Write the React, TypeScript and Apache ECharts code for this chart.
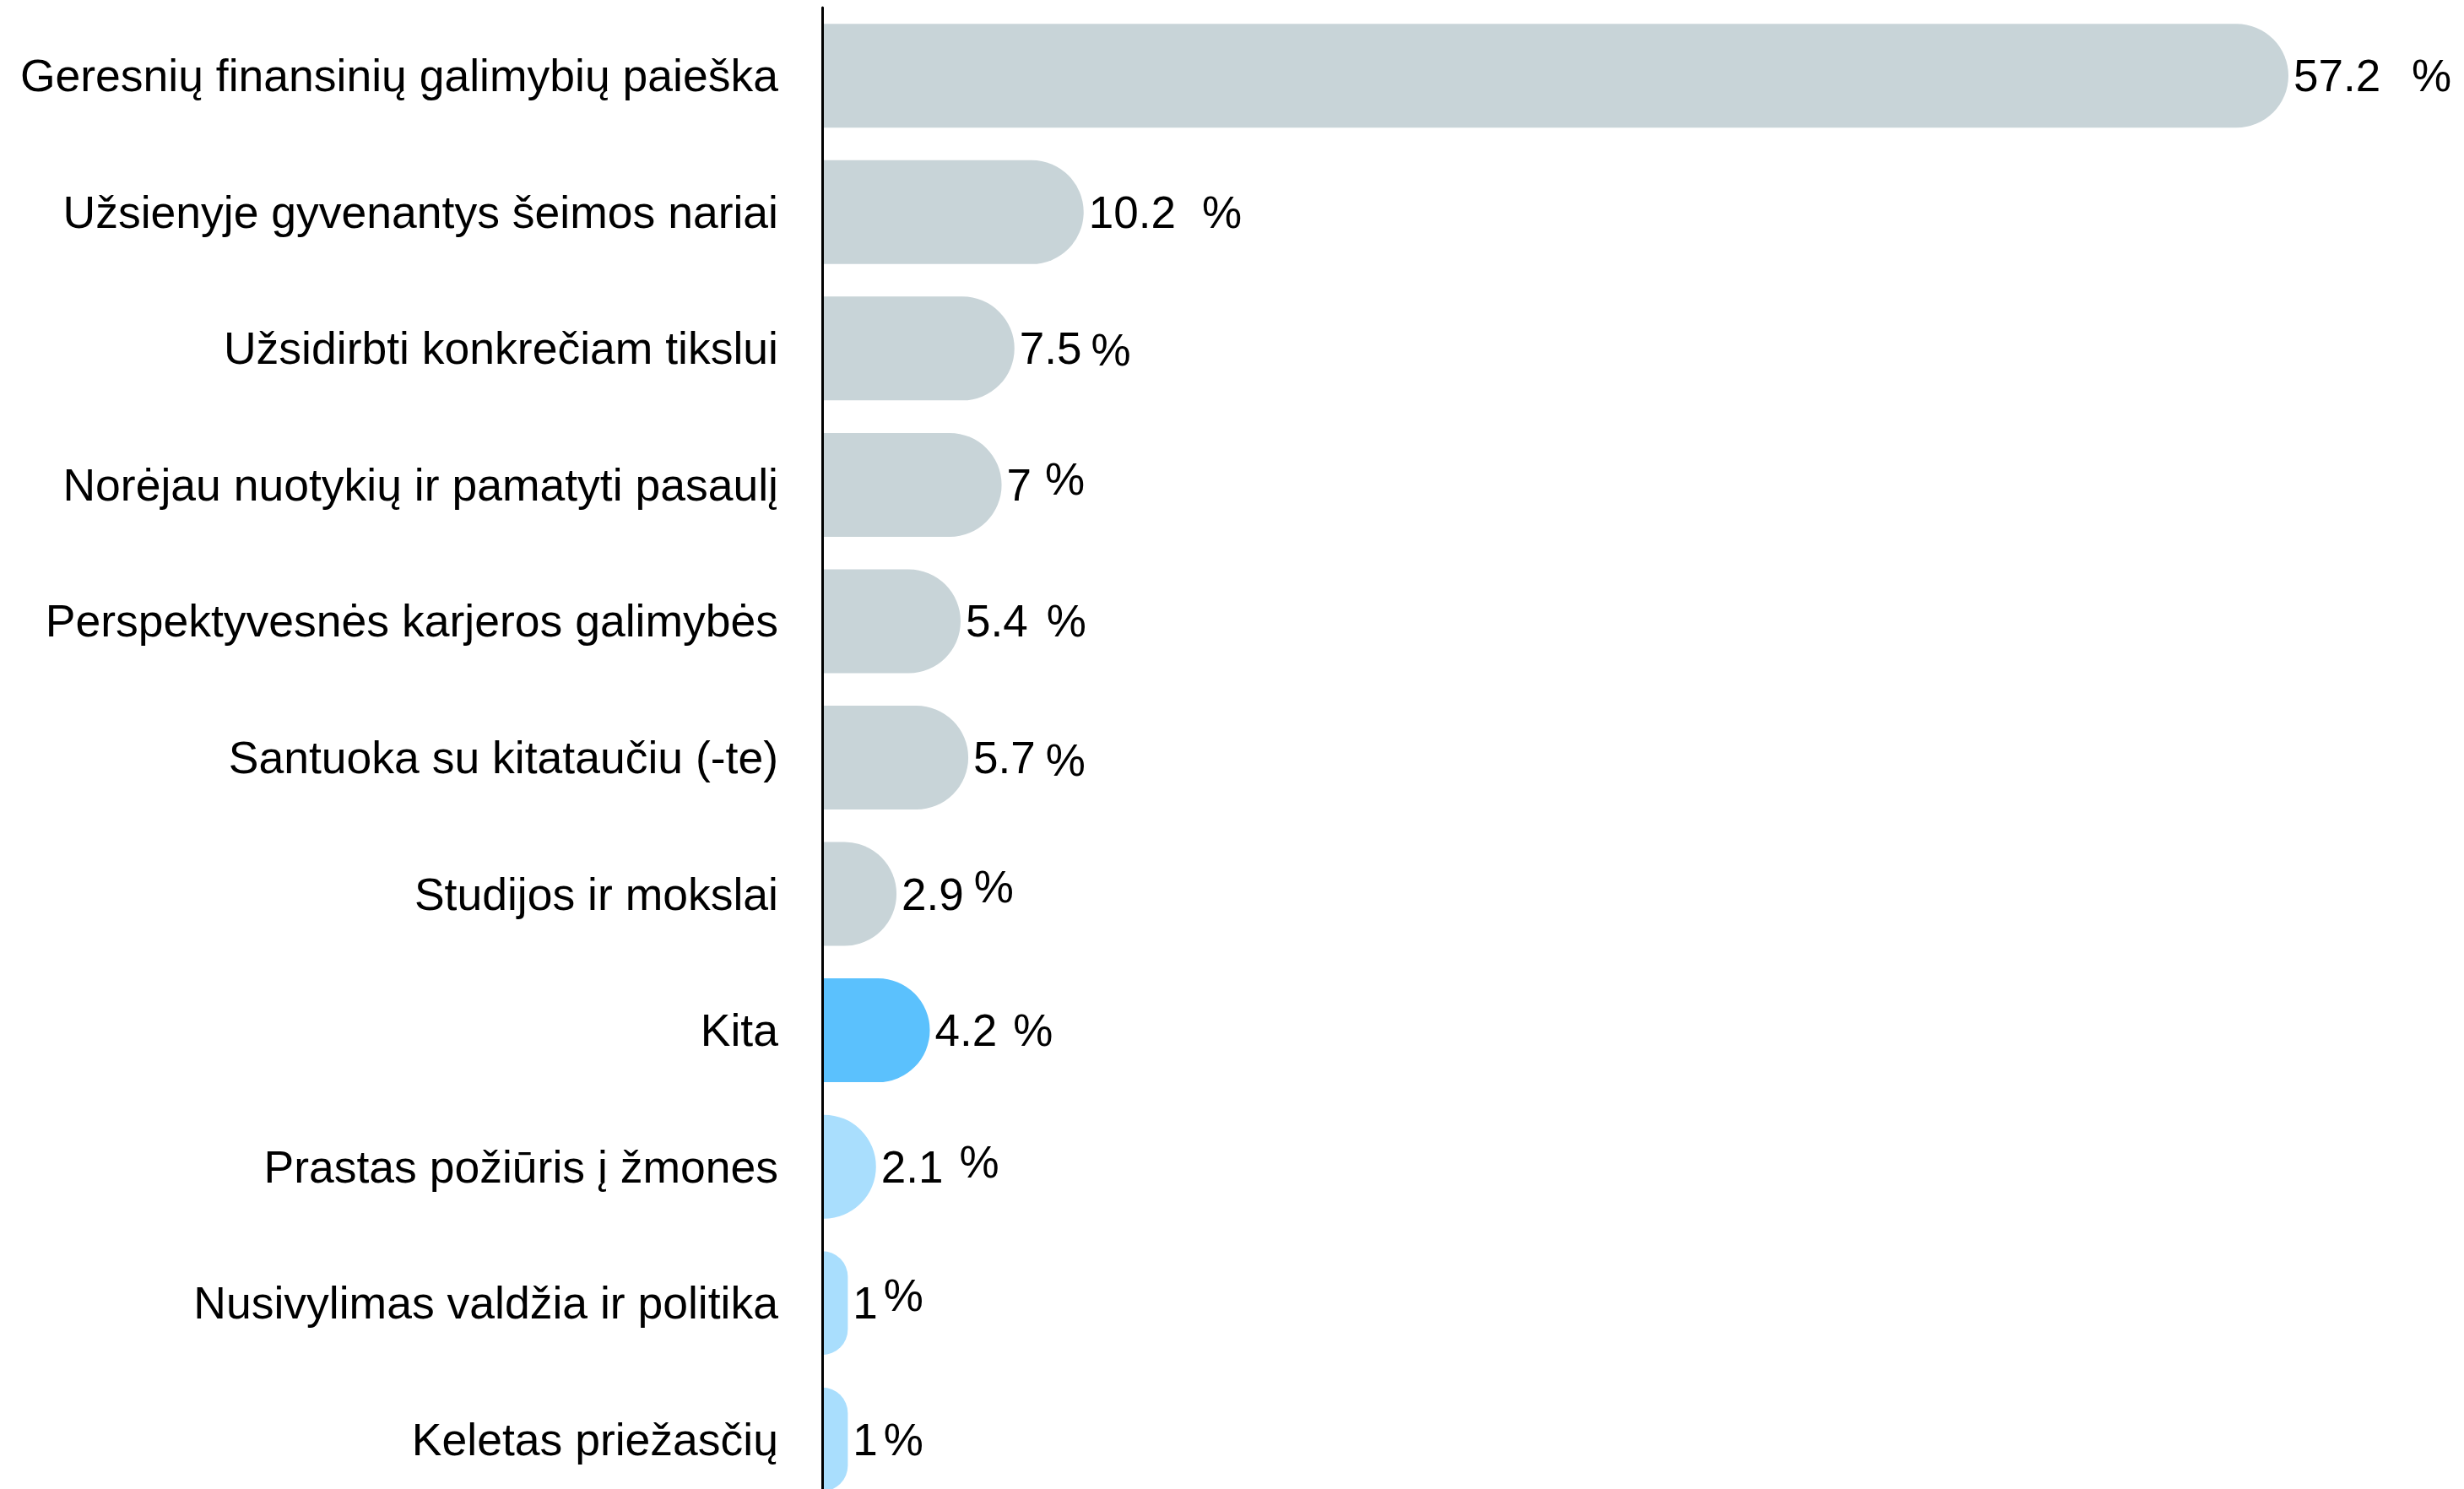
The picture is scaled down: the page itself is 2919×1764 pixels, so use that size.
import React, { useEffect, useRef } from "react";
import * as echarts from "echarts";

// ---- data ----
const categories = [
  "Geresnių finansinių galimybių paieška",
  "Užsienyje gyvenantys šeimos nariai",
  "Užsidirbti konkrečiam tikslui",
  "Norėjau nuotykių ir pamatyti pasaulį",
  "Perspektyvesnės karjeros galimybės",
  "Santuoka su kitataučiu (-te)",
  "Studijos ir mokslai",
  "Kita",
  "Prastas požiūris į žmones",
  "Nusivylimas valdžia ir politika",
  "Keletas priežasčių",
];
const values = [57.2, 10.2, 7.5, 7, 5.4, 5.7, 2.9, 4.2, 2.1, 1, 1];
const valueLabels = ["57.2", "10.2", "7.5", "7", "5.4", "5.7", "2.9", "4.2", "2.1", "1", "1"];
const percentSign = "%";

// ---- styles ----
const GRAY = "#C8D4D8";
const BLUE = "#5BC1FD";
const LIGHT = "#A9DEFD";
const barColors = [GRAY, GRAY, GRAY, GRAY, GRAY, GRAY, GRAY, BLUE, LIGHT, LIGHT, LIGHT];
// spacing before the % sign and its vertical rise, per row (layout quirks of the original)
const pctGap = [37, 31, 11, 16, 22, 12, 12, 19, 19, 7, 7];
const pctRise = [0, 0, -2, 7, 0, -3, 9, 0, 6, 9, 0];

const FONT = "'Liberation Sans', Arial, Helvetica, sans-serif";
const FS = 53;
const CAT_FS = 53.5;

export default function App() {
  const ref = useRef<HTMLDivElement>(null);

  useEffect(() => {
    if (!ref.current) return;
    const chart = echarts.init(ref.current, undefined, { renderer: "svg" });

    const data = values.map((v, i) => {
      const rise = pctRise[i];
      const padTop = rise < 0 ? -2 * rise : 0;
      const padBottom = rise > 0 ? 2 * rise : 0;
      return {
        value: v,
        itemStyle: { color: barColors[i] },
        label: {
          formatter: `{n|${valueLabels[i]}}{p|${percentSign}}`,
          rich: {
            n: { fontSize: FS, fontFamily: FONT, color: "#000" },
            p: {
              fontSize: FS,
              fontFamily: FONT,
              color: "#000",
              padding: [padTop, 0, padBottom, pctGap[i]],
            },
          },
        },
      };
    });

    chart.setOption({
      animation: false,
      backgroundColor: "#ffffff",
      grid: {
        left: 974,
        right: 123,
        top: 9,
        bottom: -22,
        containLabel: false,
        outerBoundsMode: "none",
      },
      xAxis: {
        type: "value",
        min: 0,
        max: 60,
        show: false,
        splitLine: { show: false },
      },
      yAxis: {
        type: "category",
        inverse: true,
        data: categories,
        z: 5,
        axisTick: { show: false },
        axisLine: { show: true, lineStyle: { color: "#000", width: 3 } },
        axisLabel: {
          fontSize: CAT_FS,
          fontFamily: FONT,
          color: "#000",
          margin: 52,
        },
        splitLine: { show: false },
      },
      series: [
        {
          type: "bar",
          data,
          barWidth: 123,
          itemStyle: { borderRadius: [0, 62, 62, 0] },
          label: {
            show: true,
            position: "right",
            distance: 6,
            fontSize: FS,
            fontFamily: FONT,
            color: "#000",
          },
          z: 1,
        },
      ],
    });

    return () => {
      chart.dispose();
    };
  }, []);

  return (
    <div
      ref={ref}
      style={{ position: "fixed", left: 0, top: 0, width: 2919, height: 1764, background: "#fff" }}
    />
  );
}
